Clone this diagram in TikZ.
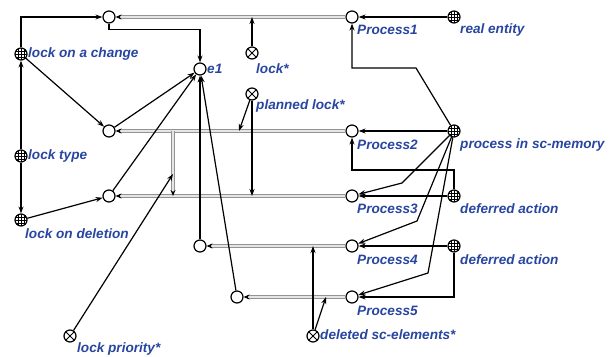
\documentclass[tikz,border=0pt]{standalone}
\usepackage{fontspec}
\setmainfont{Liberation Sans}
\usetikzlibrary{arrows.meta}
\definecolor{lbl}{RGB}{40,70,160}
\begin{document}
\begin{tikzpicture}[x=1pt,y=-1pt,
  base/.style={circle,draw,line width=1.2pt,minimum size=12pt,inner sep=0pt,fill=white},
  plain/.style={base},
  dotc/.style={base,path picture={\fill (path picture bounding box.center) circle (1.2pt);}},
  gridc/.style={base,path picture={
      \foreach \d in {-3,0,3}{
        \draw[line width=0.6pt] ([xshift=\d pt]path picture bounding box.north) -- ([xshift=\d pt]path picture bounding box.south);
        \draw[line width=0.6pt] ([yshift=\d pt]path picture bounding box.west) -- ([yshift=\d pt]path picture bounding box.east);}}},
  xc/.style={base,path picture={\draw[line width=1pt] (path picture bounding box.north west)--(path picture bounding box.south east) (path picture bounding box.north east)--(path picture bounding box.south west);}},
  lab/.style={text=lbl,font=\fontsize{13.6}{14}\selectfont\bfseries\itshape,inner sep=0pt,anchor=west},
  arr/.style={line width=1.2pt,-{Stealth[length=7pt,width=5pt]}},
  dbl/.style={draw=gray!85,line width=0.9pt,double=gray!20,double distance=1.6pt,-{Stealth[length=6pt,width=5pt,black]}}
]
\useasboundingbox[fill=white] (0,0) rectangle (609,356);

% nodes
\node[plain] (T1) at (109,17) {};
\node[dotc]  (P1) at (352,17) {};
\node[gridc] (RE) at (454,17) {};
\node[gridc] (LC) at (21,54) {};
\node[plain] (E1) at (200,69) {};
\node[xc]    (LS) at (252,53) {};
\node[xc]    (PL) at (252,94) {};
\node[plain] (C2) at (109,131) {};
\node[dotc]  (P2) at (352,131) {};
\node[gridc] (PSM) at (454,131) {};
\node[gridc] (LT) at (21,156) {};
\node[plain] (C3) at (109,196) {};
\node[dotc]  (P3) at (352,196) {};
\node[gridc] (DA1) at (454,196) {};
\node[gridc] (LD) at (21,220) {};
\node[plain] (C4) at (200,246) {};
\node[dotc]  (P4) at (352,246) {};
\node[gridc] (DA2) at (454,246) {};
\node[plain] (C5) at (237,297) {};
\node[dotc]  (P5) at (352,297) {};
\node[xc]    (LP) at (70,336) {};
\node[xc]    (DS) at (313,336) {};

% labels
\node[lab] (lP1) at (357,30) {Process1};
\node[lab] (lRE) at (460,30) {real entity};
\node[lab] (lLC) at (28,54) {lock on a change};
\node[lab] (lE1) at (207,69) {e1};
\node[lab] (lLS) at (256,69) {lock*};
\node[lab] (lPL) at (256,106) {planned lock*};
\node[lab] (lP2) at (357,145) {Process2};
\node[lab] (lPSM) at (460,145) {process in sc-memory};
\node[lab] (lLT) at (28,156) {lock type};
\node[lab] (lP3) at (357,209) {Process3};
\node[lab] (lDA1) at (460,209) {deferred action};
\node[lab] (lLD) at (25,234) {lock on deletion};
\node[lab] (lP4) at (357,260) {Process4};
\node[lab] (lDA2) at (460,260) {deferred action};
\node[lab] (lP5) at (357,311) {Process5};
\node[lab] (lLP) at (77,349) {lock priority*};
\node[lab] (lDS) at (320,335) {deleted sc-elements*};

% points on arcs
\coordinate (a1) at (252,17);
\coordinate (a2) at (239,131);
\coordinate (a3) at (252,196);
\coordinate (a4) at (173,131);
\coordinate (a5) at (173,196);
\coordinate (a6) at (173,174);
\coordinate (a7) at (313,246);
\coordinate (a8) at (326,297);

% double (gray) arcs
\draw[dbl] (P1) -- (T1);
\draw[dbl] (P2) -- (C2);
\draw[dbl] (P3) -- (C3);
\draw[dbl] (P4) -- (C4);
\draw[dbl] (P5) -- (C5);
\draw[dbl] (a4) -- (a5);

% black arcs
\draw[arr] (LC) |- (T1);
\draw[arr] (LT) -- (LC);
\draw[arr] (LT) -- (LD);
\draw[arr] (LC) -- (C2);
\draw[arr] (LD) -- (C3);
\draw[arr] (T1.south) -- ++(0,6) -| (E1.north);
\draw[arr] (C2) -- (E1);
\draw[arr] (C3) -- (E1);
\draw[arr] (C4) -- (E1);
\draw[arr] (C5) -- (E1);
\draw[arr] (LS) -- (a1);
\draw[arr] (PL) -- (a2);
\draw[arr] (PL) -- (a3);
\draw[arr] (LP) -- (a6);
\draw[arr] (DS) -- (a7);
\draw[arr] (DS) -- (a8);
\draw[arr] (RE) -- (P1);
\draw[arr] (PSM) -- (416,68) -| (P1);
\draw[arr] (PSM) -- (P2);
\draw[arr] (PSM) -- (402,183) -- (P3);
\draw[arr] (PSM) -- (417,221) -- (P4);
\draw[arr] (PSM) -- (428,273) -- (P5);
\draw[arr] (DA1) -- (P3);
\draw[arr] (DA1) |- (352,170) -- (P2);
\draw[arr] (DA2) -- (P4);
\draw[arr] (DA2) |- (P5);
\end{tikzpicture}
\end{document}
